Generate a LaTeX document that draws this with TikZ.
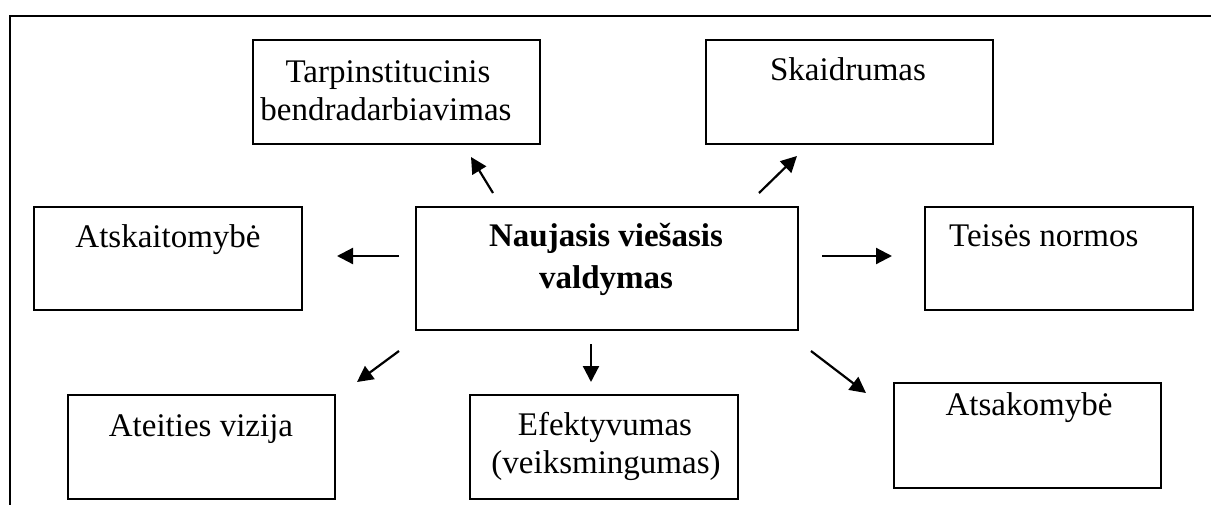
\documentclass[tikz,border=0pt]{standalone}
\usepackage{fontspec}
\setmainfont{Liberation Serif}
\usetikzlibrary{arrows.meta}
\begin{document}
\begin{tikzpicture}[x=1pt,y=-1pt,
  box/.style={draw=black, line width=1.8pt, inner sep=0pt, anchor=north west},
  lbl/.style={anchor=base, inner sep=0pt, font=\fontsize{33}{38}\selectfont},
  lblw/.style={lbl, anchor=base west},
  blbl/.style={lbl, font=\fontsize{33}{38}\selectfont\bfseries},
  arr/.style={line width=2.2pt, -{Triangle[length=16pt,width=16pt]}}]
\useasboundingbox (0,0) rectangle (1211,504);
\draw[line width=2.2pt] (10,505) -- (10,16) -- (1212,16);
% boxes
\node[box, minimum width=287pt, minimum height=104pt] (tarp) at (252,39) {};
\node[box, minimum width=287pt, minimum height=104pt] (skaid) at (705,39) {};
\node[box, minimum width=268pt, minimum height=103pt] (atsk) at (33,206) {};
\node[box, minimum width=382pt, minimum height=123pt] (nvv) at (415,206) {};
\node[box, minimum width=268pt, minimum height=103pt] (teis) at (924,206) {};
\node[box, minimum width=267pt, minimum height=104pt] (ateit) at (67,394) {};
\node[box, minimum width=268pt, minimum height=104pt] (efekt) at (469,394) {};
\node[box, minimum width=267pt, minimum height=105pt] (atsak) at (893,382) {};
% labels
\node[lbl] (tarp1) at (388,82) {Tarpinstitucinis};
\node[lbl] (tarp2) at (386,120) {bendradarbiavimas};
\node[lbl] (skaidt) at (848,80) {Skaidrumas};
\node[lbl] (atskt) at (168,247) {Atskaitomybė};
\node[blbl] (nvv1) at (606,246) {Naujasis viešasis};
\node[blbl] (nvv2) at (606,288) {valdymas};
\node[lblw] (teist) at (949,246) {Teisės normos};
\node[lbl] (ateitt) at (201,436) {Ateities vizija};
\node[lbl] (efekt1) at (605,435) {Efektyvumas};
\node[lbl] (efekt2) at (606,473) {(veiksmingumas)};
\node[lbl] (atsakt) at (1029,415) {Atsakomybė};
% arrow end points
\coordinate (a1s) at (493,193); \coordinate (a1e) at (471,157);
\coordinate (a2s) at (759,193); \coordinate (a2e) at (797,156);
\coordinate (a3s) at (399,256); \coordinate (a3e) at (337,256);
\coordinate (a4s) at (822,256); \coordinate (a4e) at (892,256);
\coordinate (a5s) at (399,351); \coordinate (a5e) at (357,382);
\coordinate (a6s) at (591,344); \coordinate (a6e) at (591,382);
\coordinate (a7s) at (811,351); \coordinate (a7e) at (866,393);
\draw[arr] (a1s) -- (a1e);
\draw[arr] (a2s) -- (a2e);
\draw[arr] (a3s) -- (a3e);
\draw[arr] (a4s) -- (a4e);
\draw[arr] (a5s) -- (a5e);
\draw[arr] (a6s) -- (a6e);
\draw[arr] (a7s) -- (a7e);
\end{tikzpicture}
\end{document}
